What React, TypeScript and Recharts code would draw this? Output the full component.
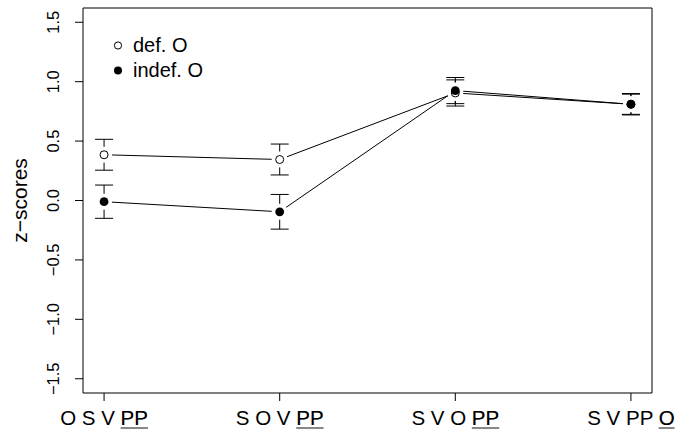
import React from 'react';
import { ComposedChart, Line, Scatter, XAxis, YAxis, ErrorBar, ReferenceArea, Legend } from 'recharts';

// word orders on the x axis; the underlined constituent is kept apart
const positions = [1, 2, 3, 4];
const orderPrefix = ['O S V ', 'S O V ', 'S V O ', 'S V PP '];
const orderUnderlined = ['PP', 'PP', 'PP', 'O'];

// mean z-scores and half-widths of the error bars
const defMean = [0.385, 0.345, 0.905, 0.81];
const defErr = [0.13, 0.13, 0.11, 0.09];
const indefMean = [-0.01, -0.095, 0.925, 0.81];
const indefErr = [0.14, 0.146, 0.11, 0.085];

const yTicks = [-1.5, -1, -0.5, 0, 0.5, 1, 1.5];
const seriesNames = ['def. O', 'indef. O'];

const FONT = '"Liberation Sans", Arial, Helvetica, sans-serif';

const data = positions.map((x, i) => ({
  x,
  def: defMean[i],
  defErr: defErr[i],
  indef: indefMean[i],
  indefErr: indefErr[i],
}));

const fmt = (v: number) => v.toFixed(1).replace('-', '\u2212');

const XTick = (props: any) => {
  const { x, y, payload } = props;
  const i = positions.indexOf(payload.value);
  const common = {
    x,
    y: y + 24,
    textAnchor: 'middle' as const,
    fontFamily: FONT,
    fontSize: 20.5,
    style: { whiteSpace: 'pre' } as React.CSSProperties,
  };
  return (
    <g>
      {/* grey underline layer, glyphs covered by the black layer above */}
      <text {...common} fill="none">
        <tspan>{orderPrefix[i]}</tspan>
        <tspan textDecoration="underline" fill="#888">{orderUnderlined[i]}</tspan>
      </text>
      <text {...common} fill="#000">
        <tspan>{orderPrefix[i]}</tspan>
        <tspan>{orderUnderlined[i]}</tspan>
      </text>
    </g>
  );
};

const YTick = (props: any) => {
  const { x, y, payload } = props;
  const bx = x - 16;
  return (
    <text x={bx} y={y} transform={`rotate(-90, ${bx}, ${y})`} textAnchor="middle" fontFamily={FONT} fontSize={16.5} fill="#000">
      {fmt(payload.value)}
    </text>
  );
};

const YLabel = (props: any) => {
  const { viewBox } = props;
  const bx = viewBox.x + 27;
  const cy = viewBox.y + viewBox.height / 2;
  return (
    <text x={bx} y={cy} transform={`rotate(-90, ${bx}, ${cy})`} textAnchor="middle" fontFamily={FONT} fontSize={21} fill="#000">
      z{'\u2212'}scores
    </text>
  );
};

const Halo = (props: any) => <circle cx={props.cx} cy={props.cy} r={8} fill="#fff" />;
const OpenDot = (props: any) => <circle cx={props.cx} cy={props.cy} r={4} fill="#fff" stroke="#000" strokeWidth={1} />;
const FilledDot = (props: any) => <circle cx={props.cx} cy={props.cy} r={4.4} fill="#000" />;

const LegendBox = () => (
  <div style={{ fontFamily: FONT, fontSize: 20, color: '#000' }}>
    {seriesNames.map((n, i) => (
      <div key={n} style={{ display: 'flex', alignItems: 'center', height: 25 }}>
        <svg width={25} height={25}>
          {i === 0 ? (
            <circle cx={10} cy={12.5} r={3.6} fill="#fff" stroke="#000" strokeWidth={1} />
          ) : (
            <circle cx={10} cy={12.5} r={4} fill="#000" />
          )}
        </svg>
        <span>{n}</span>
      </div>
    ))}
  </div>
);

export default function App() {
  return (
    <div style={{ position: 'absolute', left: 0, top: 0, background: '#fff' }}>
      <ComposedChart width={678} height={431} data={data} margin={{ top: 8, right: 26, bottom: 0, left: 0 }}>
        <XAxis
          type="number"
          dataKey="x"
          domain={[0.88, 4.12]}
          ticks={positions}
          allowDataOverflow
          axisLine={false}
          tickLine={{ stroke: '#000' }}
          tickSize={8}
          tickMargin={0}
          height={38}
          tick={<XTick />}
          interval={0}
        />
        <YAxis
          type="number"
          domain={[-1.62, 1.62]}
          ticks={yTicks}
          allowDataOverflow
          axisLine={false}
          tickLine={{ stroke: '#000' }}
          tickSize={8}
          tickMargin={0}
          width={83}
          tick={<YTick />}
          interval={0}
          label={<YLabel />}
        />
        <ReferenceArea x1={0.88} x2={4.12} y1={-1.62} y2={1.62} fill="none" fillOpacity={0} stroke="#000" strokeWidth={1} ifOverflow="visible" />
        <Line dataKey="def" type="linear" stroke="#000" strokeWidth={1} dot={false} activeDot={false} isAnimationActive={false} />
        <Line dataKey="indef" type="linear" stroke="#000" strokeWidth={1} dot={false} activeDot={false} isAnimationActive={false} />
        <Scatter dataKey="def" shape={<Halo />} isAnimationActive={false} />
        <Scatter dataKey="indef" shape={<Halo />} isAnimationActive={false} />
        <Scatter dataKey="def" shape={<OpenDot />} isAnimationActive={false}>
          <ErrorBar dataKey="defErr" direction="y" width={9} stroke="#000" strokeWidth={1} />
        </Scatter>
        <Scatter dataKey="indef" shape={<FilledDot />} isAnimationActive={false}>
          <ErrorBar dataKey="indefErr" direction="y" width={9} stroke="#000" strokeWidth={1} />
        </Scatter>
        <Legend
          layout="vertical"
          align="center"
          verticalAlign="middle"
          content={<LegendBox />}
          wrapperStyle={{ left: 108, top: 32.5, width: 'auto' }}
        />
      </ComposedChart>
    </div>
  );
}
